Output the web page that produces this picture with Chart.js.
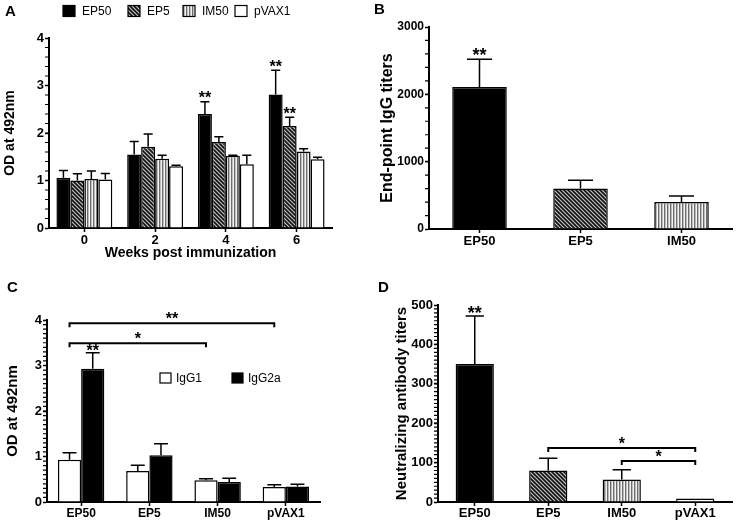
<!DOCTYPE html>
<html>
<head>
<meta charset="utf-8">
<script src="https://cdn.jsdelivr.net/npm/chart.js@4.4.1/dist/chart.umd.min.js"></script>
<style>
html, body { margin: 0; padding: 0; background: #fff; }
#page { position: relative; width: 737px; height: 523px; overflow: hidden; font-family: "Liberation Sans", Arial, sans-serif; }
.panel { position: absolute; }
.tag { position: absolute; font-weight: bold; font-size: 15px; line-height: 15px; color: #000; }
</style>
</head>
<body>
<div id="page">
  <div class="panel" style="left:0;top:0;width:352px;height:262px"><canvas id="chartA"></canvas></div>
  <div class="panel" style="left:370px;top:0;width:367px;height:262px"><canvas id="chartB"></canvas></div>
  <div class="panel" style="left:0;top:262px;width:352px;height:261px"><canvas id="chartC"></canvas></div>
  <div class="panel" style="left:370px;top:262px;width:367px;height:261px"><canvas id="chartD"></canvas></div>
  <div class="tag" style="left:5px;top:3px">A</div>
  <div class="tag" style="left:374px;top:1px">B</div>
  <div class="tag" style="left:7px;top:279px">C</div>
  <div class="tag" style="left:378px;top:279px">D</div>
</div>
<script>
// panel A: OD at 492nm over weeks
const weekLabels = ['0', '2', '4', '6'];
const odEP50 = [1.06, 1.55, 2.40, 2.81];
const odEP50Err = [0.15, 0.27, 0.26, 0.51];
const odEP5 = [1.00, 1.71, 1.81, 2.15];
const odEP5Err = [0.14, 0.27, 0.11, 0.18];
const odIM50 = [1.03, 1.46, 1.52, 1.61];
const odIM50Err = [0.17, 0.07, 0.01, 0.06];
const odPVAX1 = [1.02, 1.30, 1.34, 1.45];
const odPVAX1Err = [0.13, 0.02, 0.19, 0.04];
const starsEP50 = ['', '', '**', '**'];
const starsEP5 = ['', '', '', '**'];

// panel B: end-point IgG titers
const titerGroups = ['EP50', 'EP5', 'IM50'];
const endpointTiters = [2110, 600, 400];
const endpointErr = [410, 123, 90];
const endpointStars = ['**', '', ''];

// panel C: IgG subclasses
const subclassGroups = ['EP50', 'EP5', 'IM50', 'pVAX1'];
const igg1 = [0.93, 0.68, 0.48, 0.33];
const igg1Err = [0.15, 0.13, 0.03, 0.05];
const igg2a = [2.93, 1.03, 0.44, 0.34];
const igg2aErr = [0.35, 0.25, 0.08, 0.05];
const igg2aStars = ['**', '', '', ''];
const bracketsC = [
  { from: 0, to: 3, value: 3.93, label: '**' },
  { from: 0, to: 2, value: 3.49, label: '*' }
];

// panel D: neutralizing antibody titers
const neutGroups = ['EP50', 'EP5', 'IM50', 'pVAX1'];
const neutTiters = [350, 80, 57, 9];
const neutErr = [122, 31, 25, 0];
const neutStars = ['**', '', '', ''];
const bracketsD = [
  { from: 1, to: 3, value: 137, label: '*' },
  { from: 2, to: 3, value: 104, label: '*' }
];

const FONT = '"Liberation Sans", Arial, sans-serif';
Chart.defaults.font.family = FONT;
Chart.defaults.color = '#000';

function hatch(ctx) {
  const c = document.createElement('canvas');
  c.width = 4; c.height = 4;
  const g = c.getContext('2d');
  g.fillStyle = '#c8c8c8';
  g.fillRect(0, 0, 4, 4);
  g.strokeStyle = '#111';
  g.lineWidth = 1.7;
  g.beginPath();
  g.moveTo(-1, -1); g.lineTo(5, 5);
  g.moveTo(-1, 3); g.lineTo(1, 5);
  g.moveTo(3, -1); g.lineTo(5, 1);
  g.stroke();
  return ctx.createPattern(c, 'repeat');
}

function stripes(ctx) {
  const c = document.createElement('canvas');
  c.width = 3; c.height = 2;
  const g = c.getContext('2d');
  g.fillStyle = '#6e6e6e'; g.fillRect(0, 0, 1, 2);
  g.fillStyle = '#bdbdbd'; g.fillRect(1, 0, 1, 2);
  g.fillStyle = '#f2f2f2'; g.fillRect(2, 0, 1, 2);
  return ctx.createPattern(c, 'repeat');
}

// asterisk glyph centre sits about 0.42em above the baseline
function starBaseline(top, gap, size) {
  return top - gap + 0.42 * size;
}

const errorBars = {
  id: 'errorBars',
  afterDatasetsDraw(chart, args, opts) {
    const ctx = chart.ctx;
    const yScale = chart.scales.y;
    ctx.save();
    ctx.strokeStyle = '#000';
    ctx.fillStyle = '#000';
    ctx.lineWidth = 1.5;
    chart.data.datasets.forEach((ds, di) => {
      chart.getDatasetMeta(di).data.forEach((bar, i) => {
        const err = ds.err ? ds.err[i] : 0;
        const top = yScale.getPixelForValue(ds.data[i] + err);
        if (err > 0) {
          const half = bar.width * opts.cap / 2;
          ctx.beginPath();
          ctx.moveTo(bar.x, bar.y);
          ctx.lineTo(bar.x, top);
          ctx.moveTo(bar.x - half, top);
          ctx.lineTo(bar.x + half, top);
          ctx.stroke();
        }
        if (ds.stars && ds.stars[i]) {
          ctx.font = 'bold ' + opts.starSize + 'px ' + FONT;
          ctx.textAlign = 'center';
          ctx.textBaseline = 'alphabetic';
          ctx.fillText(ds.stars[i], bar.x, starBaseline(top, opts.starGap, opts.starSize));
        }
      });
    });
    ctx.restore();
  }
};

const minorTicks = {
  id: 'minorTicks',
  afterDraw(chart, args, opts) {
    if (!opts.step) return;
    const s = chart.scales.y;
    const ctx = chart.ctx;
    const n = Math.round((s.max - s.min) / opts.step);
    ctx.save();
    ctx.strokeStyle = '#000';
    ctx.lineWidth = 1.2;
    ctx.beginPath();
    for (let k = 1; k < n; k++) {
      const py = s.getPixelForValue(s.min + k * opts.step);
      ctx.moveTo(s.right - opts.len, py);
      ctx.lineTo(s.right, py);
    }
    ctx.stroke();
    ctx.restore();
  }
};

const brackets = {
  id: 'brackets',
  afterDatasetsDraw(chart, args, opts) {
    if (!opts.items) return;
    const ctx = chart.ctx;
    const meta = chart.getDatasetMeta(0);
    ctx.save();
    ctx.strokeStyle = '#000';
    ctx.fillStyle = '#000';
    ctx.lineWidth = 2;
    opts.items.forEach(b => {
      const x1 = meta.data[b.from].x;
      const x2 = meta.data[b.to].x;
      const py = chart.scales.y.getPixelForValue(b.value);
      ctx.beginPath();
      ctx.moveTo(x1, py + opts.drop);
      ctx.lineTo(x1, py);
      ctx.lineTo(x2, py);
      ctx.lineTo(x2, py + opts.drop);
      ctx.stroke();
      ctx.font = 'bold ' + opts.size + 'px ' + FONT;
      ctx.textAlign = 'center';
      ctx.textBaseline = 'alphabetic';
      ctx.fillText(b.label, (x1 + x2) / 2, starBaseline(py, opts.gap, opts.size));
    });
    ctx.restore();
  }
};

const swatchLegend = {
  id: 'swatchLegend',
  afterDraw(chart, args, opts) {
    if (!opts.xs) return;
    const ctx = chart.ctx;
    ctx.save();
    chart.data.datasets.forEach((ds, i) => {
      const x = opts.xs[i];
      const y = opts.y;
      ctx.fillStyle = ds.backgroundColor;
      ctx.fillRect(x, y - opts.h / 2, opts.w, opts.h);
      ctx.strokeStyle = '#000';
      ctx.lineWidth = 1.2;
      ctx.strokeRect(x, y - opts.h / 2, opts.w, opts.h);
      ctx.fillStyle = '#000';
      ctx.font = opts.size + 'px ' + FONT;
      ctx.textAlign = 'left';
      ctx.textBaseline = 'middle';
      ctx.fillText(ds.label, x + opts.w + opts.gap, y + 1);
    });
    ctx.restore();
  }
};

Chart.register(errorBars, minorTicks, brackets, swatchLegend);

function panelOptions(cfg) {
  return {
    responsive: true,
    maintainAspectRatio: false,
    animation: false,
    layout: { padding: cfg.padding },
    plugins: Object.assign({
      legend: { display: false },
      tooltip: { enabled: false }
    }, cfg.plugins),
    scales: {
      x: {
        grid: { drawOnChartArea: false, offset: false, tickLength: 4, tickColor: '#000', tickWidth: 1.5 },
        border: { color: '#000', width: 2 },
        ticks: { font: { weight: 'bold', size: cfg.xTickSize }, padding: cfg.xTickPad, color: '#000', maxRotation: 0, autoSkip: false },
        title: cfg.xTitle
          ? { display: true, text: cfg.xTitle, font: { weight: 'bold', size: 14 }, padding: 0, color: '#000' }
          : { display: false },
        afterFit: s => { s.height = cfg.xHeight; }
      },
      y: {
        min: 0,
        max: cfg.yMax,
        grid: { drawOnChartArea: false, tickLength: 4, tickColor: '#000', tickWidth: 1.5 },
        border: { color: '#000', width: 2 },
        ticks: {
          stepSize: cfg.yStep,
          font: { weight: 'bold', size: cfg.yTickSize },
          padding: 1,
          color: '#000',
          callback: v => String(v)
        },
        title: { display: true, text: cfg.yTitle, font: { weight: 'bold', size: cfg.yTitleSize }, padding: { top: cfg.yTitlePad, bottom: 0 }, color: '#000' },
        afterFit: s => { s.width = cfg.yWidth; }
      }
    }
  };
}

function bar(label, data, err, fill, extra) {
  return Object.assign({
    label: label,
    data: data,
    err: err,
    backgroundColor: fill,
    borderColor: '#000',
    borderWidth: 1.5
  }, extra || {});
}

// A
const ctxA = document.getElementById('chartA').getContext('2d');
const groupA = { barPercentage: 1, categoryPercentage: 0.79 };
new Chart(ctxA, {
  type: 'bar',
  data: {
    labels: weekLabels,
    datasets: [
      bar('EP50', odEP50, odEP50Err, '#000', Object.assign({ stars: starsEP50 }, groupA)),
      bar('EP5', odEP5, odEP5Err, hatch(ctxA), Object.assign({ stars: starsEP5 }, groupA)),
      bar('IM50', odIM50, odIM50Err, stripes(ctxA), groupA),
      bar('pVAX1', odPVAX1, odPVAX1Err, '#fff', groupA)
    ]
  },
  options: panelOptions({
    padding: { top: 38, right: 20, left: 0, bottom: 0 },
    xTickSize: 13, xTickPad: 1, xHeight: 34, xTitle: 'Weeks post immunization',
    yMax: 4, yStep: 1, yTickSize: 13, yTitle: 'OD at 492nm', yTitleSize: 14, yTitlePad: 2, yWidth: 49,
    plugins: {
      errorBars: { cap: 0.65, starSize: 16, starGap: 5 },
      minorTicks: { step: 0.2, len: 4 },
      swatchLegend: { xs: [63, 128, 183, 235], y: 11, w: 12, h: 11, gap: 7, size: 12 }
    }
  })
});

// B
const ctxB = document.getElementById('chartB').getContext('2d');
new Chart(ctxB, {
  type: 'bar',
  data: {
    labels: titerGroups,
    datasets: [
      bar('End-point IgG titers', endpointTiters, endpointErr, ['#000', hatch(ctxB), stripes(ctxB)],
        { stars: endpointStars, barPercentage: 0.54, categoryPercentage: 1 })
    ]
  },
  options: panelOptions({
    padding: { top: 27, right: 5, left: 0, bottom: 0 },
    xTickSize: 13, xTickPad: 1, xHeight: 33,
    yMax: 3000, yStep: 1000, yTickSize: 12, yTitle: 'End-point IgG titers', yTitleSize: 16, yTitlePad: 8, yWidth: 59,
    plugins: {
      errorBars: { cap: 0.46, starSize: 18, starGap: 6 },
      minorTicks: { step: 200, len: 4 }
    }
  })
});

// C
const ctxC = document.getElementById('chartC').getContext('2d');
const groupC = { barPercentage: 1, categoryPercentage: 0.68 };
new Chart(ctxC, {
  type: 'bar',
  data: {
    labels: subclassGroups,
    datasets: [
      bar('IgG1', igg1, igg1Err, '#fff', groupC),
      bar('IgG2a', igg2a, igg2aErr, '#000', Object.assign({ stars: igg2aStars }, groupC))
    ]
  },
  options: panelOptions({
    padding: { top: 58, right: 32, left: 0, bottom: 0 },
    xTickSize: 12, xTickPad: 0, xHeight: 21,
    yMax: 4, yStep: 1, yTickSize: 13, yTitle: 'OD at 492nm', yTitleSize: 15, yTitlePad: 4, yWidth: 47,
    plugins: {
      errorBars: { cap: 0.6, starSize: 16, starGap: 3 },
      minorTicks: { step: 0.1, len: 4 },
      brackets: { items: bracketsC, drop: 4, gap: 6, size: 16 },
      swatchLegend: { xs: [160, 232], y: 116, w: 11, h: 10, gap: 5, size: 12 }
    }
  })
});

// D
const ctxD = document.getElementById('chartD').getContext('2d');
new Chart(ctxD, {
  type: 'bar',
  data: {
    labels: neutGroups,
    datasets: [
      bar('Neutralizing antibody titers', neutTiters, neutErr, ['#000', hatch(ctxD), stripes(ctxD), '#fff'],
        { stars: neutStars, barPercentage: 0.52, categoryPercentage: 1 })
    ]
  },
  options: panelOptions({
    padding: { top: 43, right: 5, left: 0, bottom: 0 },
    xTickSize: 13, xTickPad: 0, xHeight: 21,
    yMax: 500, yStep: 100, yTickSize: 13, yTitle: 'Neutralizing antibody titers', yTitleSize: 15, yTitlePad: 23, yWidth: 68,
    plugins: {
      errorBars: { cap: 0.48, starSize: 18, starGap: 5 },
      minorTicks: { step: 10, len: 4 },
      brackets: { items: bracketsD, drop: 4, gap: 6, size: 16 }
    }
  })
});
</script>
</body>
</html>
